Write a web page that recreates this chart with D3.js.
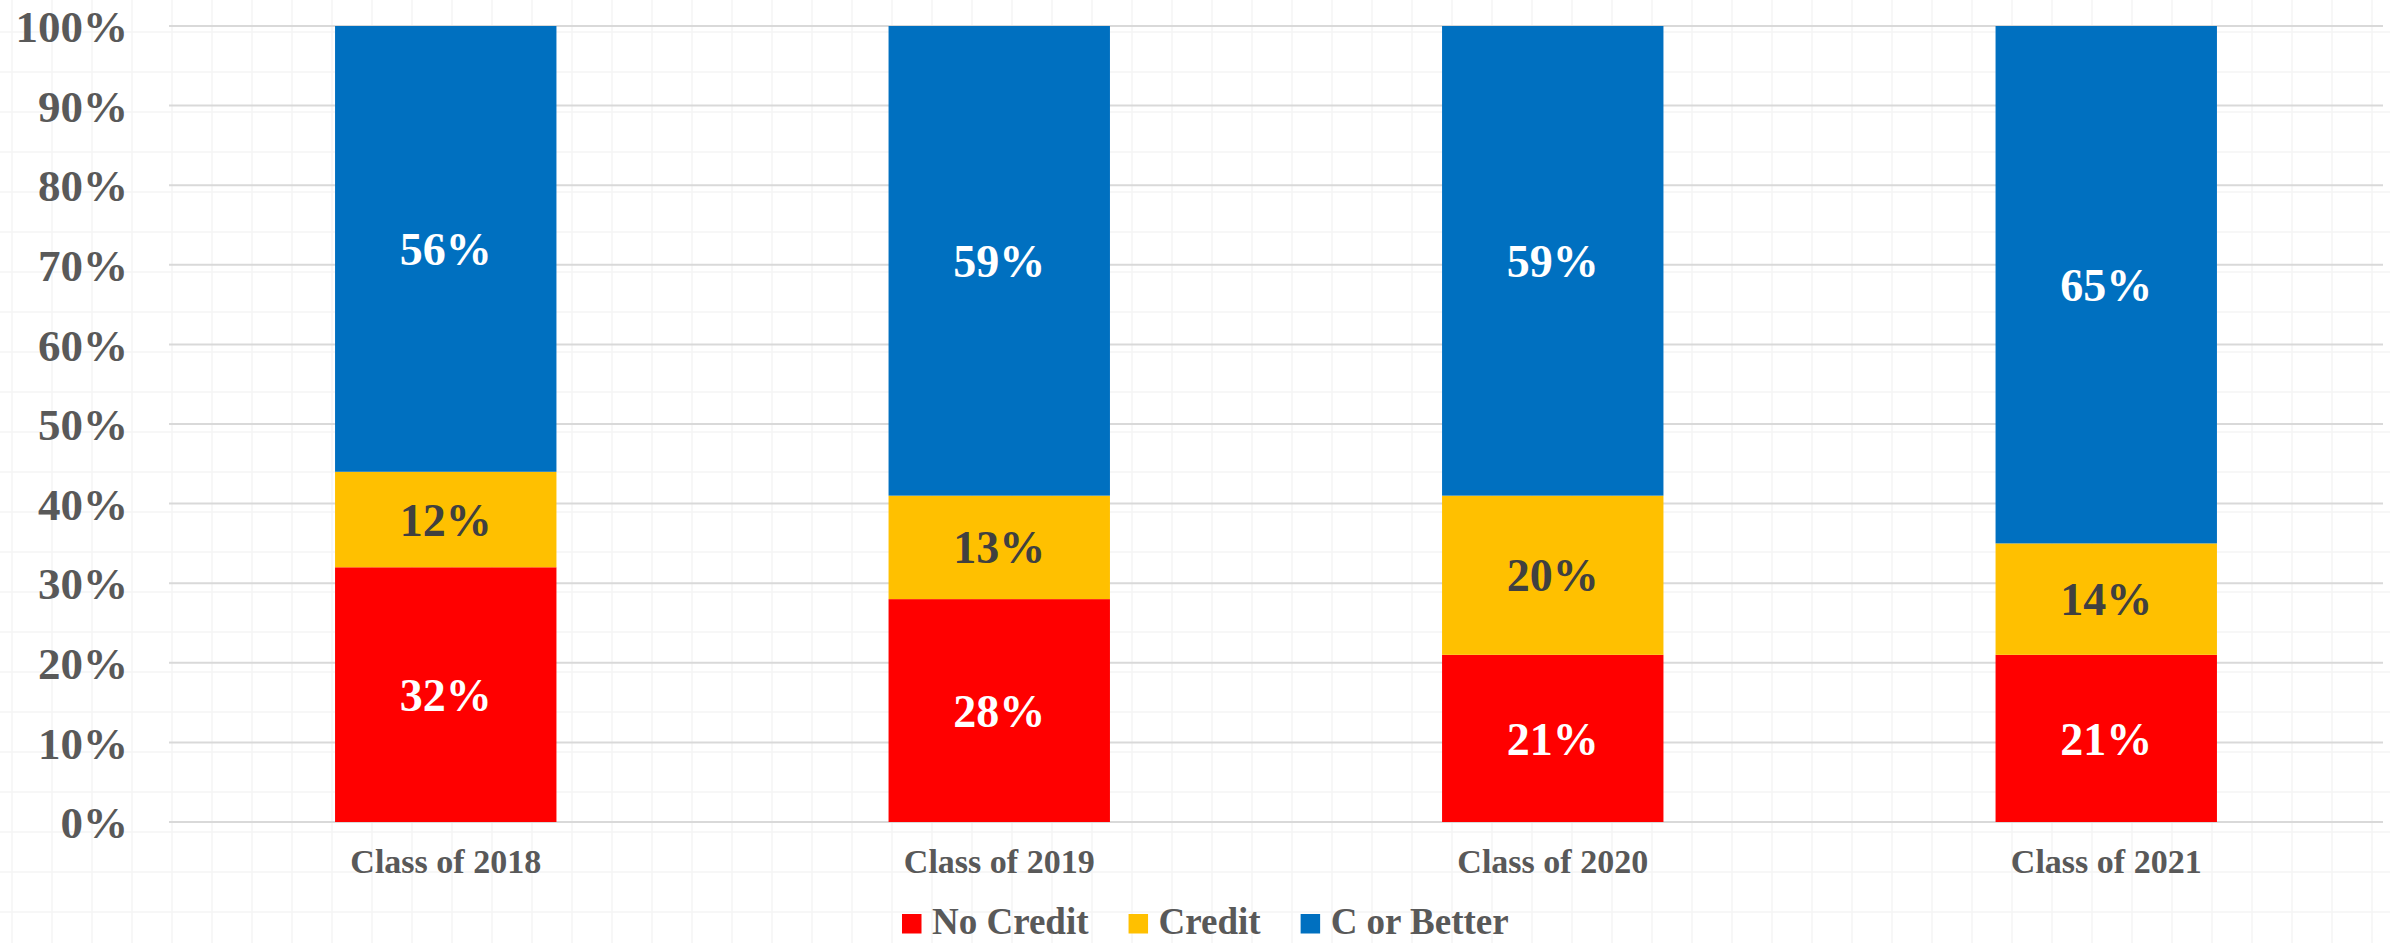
<!DOCTYPE html>
<html>
<head>
<meta charset="utf-8">
<script src="https://cdn.jsdelivr.net/npm/d3@7"></script>
<style>
  html, body { margin: 0; padding: 0; background: #fff; }
  svg { display: block; }
  text { font-family: "Liberation Serif", "DejaVu Serif", serif; font-weight: bold; }
</style>
</head>
<body>
<svg id="chart" width="2390" height="943"></svg>
<script>
const categories = ["Class of 2018", "Class of 2019", "Class of 2020", "Class of 2021"];
const seriesNames = ["No Credit", "Credit", "C or Better"];
const noCredit = [0.32, 0.28, 0.21, 0.21];
const credit = [0.12, 0.13, 0.20, 0.14];
const cOrBetter = [0.56, 0.59, 0.59, 0.65];
const yTicks = [0, 0.1, 0.2, 0.3, 0.4, 0.5, 0.6, 0.7, 0.8, 0.9, 1.0];

const colors = ["#ff0000", "#ffc000", "#0070c0"],
      labelColors = ["#ffffff", "#404040", "#ffffff"];

const width = 2390, height = 943;
const plot = {left: 169, right: 2383, top: 26, bottom: 822};

const svg = d3.select("#chart");

// faint background pattern grid
let bg = svg.append("g").attr("class", "bg-grid");
bg.selectAll("line.v")
    .data(d3.range(12, width, 40))
    .enter().append("line")
    .attr("x1", d => d).attr("x2", d => d)
    .attr("y1", 0).attr("y2", height)
    .attr("stroke", "#f4f4f4").attr("stroke-width", 1.5);
bg.selectAll("line.h")
    .data(d3.range(-8, height, 40))
    .enter().append("line")
    .attr("x1", 0).attr("x2", width)
    .attr("y1", d => d).attr("y2", d => d)
    .attr("stroke", "#f4f4f4").attr("stroke-width", 1.5);

let x = d3.scaleBand()
    .domain(categories)
    .range([plot.left, plot.right])
    .paddingInner(0.6)
    .paddingOuter(0.3);

let y = d3.scaleLinear()
    .domain([0, 1])
    .range([plot.bottom, plot.top]);

// gridlines
svg.append("g")
    .selectAll("line")
    .data(yTicks)
    .enter().append("line")
    .attr("x1", plot.left).attr("x2", plot.right)
    .attr("y1", d => y(d)).attr("y2", d => y(d))
    .attr("stroke", "#d9d9d9")
    .attr("stroke-width", 2);

// y axis labels
let yAxis = svg.append("g")
    .attr("transform", `translate(128,0)`)
    .call(d3.axisLeft(y).tickValues(yTicks).tickFormat(d3.format(".0%")).tickSize(0).tickPadding(0));
yAxis.select(".domain").remove();
yAxis.selectAll("text")
    .attr("font-family", null)
    .attr("font-size", 45)
    .attr("fill", "#595959")
    .attr("dy", "0.35em");

// stacked data
let rows = categories.map((c, i) => ({
    cat: c,
    "No Credit": noCredit[i],
    "Credit": credit[i],
    "C or Better": cOrBetter[i]
}));
let stacked = d3.stack().keys(seriesNames)(rows);

let layers = svg.selectAll(".layer")
    .data(stacked)
    .enter().append("g")
    .attr("class", "layer")
    .attr("fill", (d, i) => colors[i]);

layers.selectAll("rect")
    .data(d => d)
    .enter().append("rect")
    .attr("x", d => x(d.data.cat))
    .attr("y", d => y(d[1]))
    .attr("width", x.bandwidth())
    .attr("height", d => y(d[0]) - y(d[1]));

// data labels
svg.selectAll(".labels")
    .data(stacked)
    .enter().append("g")
    .attr("class", "labels")
    .attr("fill", (d, i) => labelColors[i])
    .selectAll("text")
    .data(d => d)
    .enter().append("text")
    .attr("x", d => x(d.data.cat) + x.bandwidth() / 2)
    .attr("y", d => (y(d[0]) + y(d[1])) / 2)
    .attr("dy", "0.35em")
    .attr("text-anchor", "middle")
    .attr("font-size", 46)
    .text(d => d3.format(".0%")(d[1] - d[0]));

// x axis labels
let xAxis = svg.append("g")
    .attr("transform", `translate(0,${plot.bottom})`)
    .call(d3.axisBottom(x).tickSize(0).tickPadding(0));
xAxis.select(".domain").remove();
xAxis.selectAll("text")
    .attr("font-family", null)
    .attr("font-size", 34)
    .attr("fill", "#595959")
    .attr("dy", null)
    .attr("y", 51);

// legend
let legend = svg.append("g").attr("class", "legend");
let lx = 902;
seriesNames.forEach((name, i) => {
    let item = legend.append("g").attr("transform", `translate(${lx},0)`);
    item.append("rect")
        .attr("x", 0).attr("y", 914)
        .attr("width", 19.5).attr("height", 19.5)
        .attr("fill", colors[i]);
    let t = item.append("text")
        .attr("x", 30).attr("y", 934)
        .attr("font-size", 37)
        .attr("fill", "#595959")
        .text(name);
    lx += 30 + t.node().getComputedTextLength() + 40;
});
</script>
</body>
</html>
